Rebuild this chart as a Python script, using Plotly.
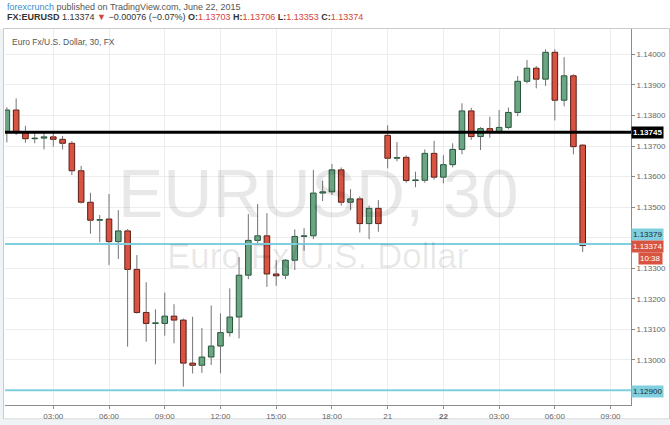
import plotly.graph_objects as go

# ---------------- data (EURUSD, 30-minute candles) ----------------
bar_index = list(range(63))
opens = [1.13745, 1.13818, 1.13745, 1.13724, 1.13726, 1.13730, 1.13722, 1.13709, 1.13619, 1.13516,
         1.13457, 1.13461, 1.13387, 1.13422, 1.13296, 1.13155, 1.13119, 1.13119, 1.13143, 1.13130,
         1.12989, 1.12982, 1.13009, 1.13045, 1.13089, 1.13140, 1.13277, 1.13391, 1.13406, 1.13281,
         1.13277, 1.13326, 1.13404, 1.13406, 1.13546, 1.13550, 1.13622, 1.13516, 1.13527, 1.13446,
         1.13496, 1.13735, 1.13660, 1.13663, 1.13587, 1.13588, 1.13676, 1.13598, 1.13639, 1.13689,
         1.13815, 1.13731, 1.13757, 1.13746, 1.13761, 1.13810, 1.13912, 1.13955, 1.13919, 1.14007,
         1.13850, 1.13930, 1.13703]
highs = [1.13827, 1.13856, 1.13766, 1.13747, 1.13745, 1.13750, 1.13733, 1.13716, 1.13635, 1.13547,
         1.13474, 1.13543, 1.13490, 1.13428, 1.13343, 1.13254, 1.13165, 1.13220, 1.13182, 1.13135,
         1.13141, 1.13104, 1.13178, 1.13152, 1.13234, 1.13336, 1.13477, 1.13510, 1.13480, 1.13327,
         1.13330, 1.13427, 1.13431, 1.13622, 1.13587, 1.13641, 1.13630, 1.13559, 1.13535, 1.13505,
         1.13523, 1.13768, 1.13713, 1.13670, 1.13616, 1.13689, 1.13717, 1.13670, 1.13709, 1.13840,
         1.13825, 1.13762, 1.13796, 1.13818, 1.13826, 1.13929, 1.13982, 1.13962, 1.14017, 1.14017,
         1.13991, 1.13935, 1.13706]
lows = [1.13712, 1.13736, 1.13711, 1.13709, 1.13689, 1.13698, 1.13689, 1.13605, 1.13512, 1.13413,
        1.13385, 1.13310, 1.13330, 1.13043, 1.13151, 1.13059, 1.12985, 1.13079, 1.13054, 1.12912,
        1.12955, 1.12957, 1.12983, 1.12956, 1.13076, 1.13070, 1.13264, 1.13380, 1.13239, 1.13242,
        1.13264, 1.13294, 1.13357, 1.13395, 1.13520, 1.13540, 1.13505, 1.13491, 1.13417, 1.13395,
        1.13419, 1.13627, 1.13650, 1.13580, 1.13565, 1.13580, 1.13590, 1.13578, 1.13630, 1.13673,
        1.13720, 1.13687, 1.13727, 1.13740, 1.13755, 1.13798, 1.13905, 1.13889, 1.13897, 1.13784,
        1.13830, 1.13673, 1.13353]
closes = [1.13818, 1.13745, 1.13724, 1.13726, 1.13730, 1.13722, 1.13709, 1.13619, 1.13516, 1.13457,
          1.13459, 1.13387, 1.13422, 1.13296, 1.13155, 1.13119, 1.13121, 1.13143, 1.13130, 1.12989,
          1.12982, 1.13009, 1.13045, 1.13089, 1.13140, 1.13277, 1.13391, 1.13406, 1.13281, 1.13275,
          1.13326, 1.13404, 1.13406, 1.13546, 1.13550, 1.13622, 1.13516, 1.13527, 1.13446, 1.13496,
          1.13446, 1.13660, 1.13662, 1.13587, 1.13589, 1.13676, 1.13598, 1.13639, 1.13689, 1.13815,
          1.13731, 1.13757, 1.13746, 1.13761, 1.13810, 1.13912, 1.13955, 1.13919, 1.14007, 1.13850,
          1.13930, 1.13698, 1.13374]

xtick_pos = [5, 11, 17, 23, 29, 35, 41, 47, 53, 59, 65]
xtick_text = ["03:00", "06:00", "09:00", "12:00", "15:00", "18:00", "21", "<b>22</b>",
              "03:00", "06:00", "09:00"]
ytick_vals = [1.130, 1.131, 1.132, 1.133, 1.134, 1.135, 1.136, 1.137, 1.138, 1.139, 1.140]
# the 1.13400 label is hidden behind the price-marker boxes in the original
ytick_text = ["1.13000", "1.13100", "1.13200", "1.13300", "", "1.13500", "1.13600",
              "1.13700", "1.13800", "1.13900", "1.14000"]

level_black = 1.13745
levels_cyan = [1.13379, 1.12900]
last_price = 1.13374
countdown = "10:38"

# ---------------- style ----------------
UP_FILL, UP_LINE = "#6ba583", "#225437"
DN_FILL, DN_LINE = "#d75442", "#5b1a13"
WICK = "#737375"
CYAN = "#7fcfdf"
GRID = "#ededed"
FONT = "Liberation Sans"

# plot area in pixels
L, R, T, B = 5, 631, 29, 405
W_PX, H_PX = R - L, B - T


def px_x(px):
    return (px - L) / W_PX


def px_y(py):
    return (B - py) / H_PX


bases, heights, fills, lines = [], [], [], []
wx, wy = [], []
for i, o, h, l, c in zip(bar_index, opens, highs, lows, closes):
    top, bot = max(o, c), min(o, c)
    bases.append(bot)
    heights.append(max(top - bot, 0.000006))
    up = c >= o
    fills.append(UP_FILL if up else DN_FILL)
    lines.append(UP_LINE if up else DN_LINE)
    wx += [i, i, None, i, i, None]
    wy += [h, top, None, bot, l, None]

fig = go.Figure()
fig.add_trace(go.Scatter(x=wx, y=wy, mode="lines", line=dict(color=WICK, width=1),
                         hoverinfo="skip", showlegend=False))
fig.add_trace(go.Bar(x=bar_index, y=heights, base=bases, width=0.6,
                     marker=dict(color=fills, line=dict(color=lines, width=1)),
                     showlegend=False))

shapes = [
    # frame
    dict(type="rect", xref="paper", yref="paper", x0=px_x(3.5), x1=px_x(669.5),
         y0=px_y(419), y1=px_y(28.5), line=dict(color="#c8cacc", width=1), layer="below"),
    # gray page strips
    dict(type="rect", xref="paper", yref="paper", x0=px_x(-2), x1=px_x(672),
         y0=px_y(427), y1=px_y(419.5), fillcolor="#f0f3f6", line=dict(width=0), layer="above"),
    dict(type="rect", xref="paper", yref="paper", x0=px_x(-2), x1=px_x(3),
         y0=px_y(427), y1=px_y(29), fillcolor="#f0f3f6", line=dict(width=0), layer="above"),
    # horizontal levels
    dict(type="line", xref="paper", yref="y", x0=0, x1=1, y0=level_black, y1=level_black,
         line=dict(color="#000000", width=3)),
]
for lv in levels_cyan:
    shapes.append(dict(type="line", xref="paper", yref="y", x0=0, x1=1, y0=lv, y1=lv,
                       line=dict(color=CYAN, width=2)))

red_txt = "#d2433a"
header2 = ("<b>FX:EURUSD</b> 1.13374 <span style='color:%s'>▼</span> −0.00076 (−0.07%%) "
           "<b>O:</b><span style='color:%s'>1.13703</span> "
           "<b>H:</b><span style='color:%s'>1.13706</span> "
           "<b>L:</b><span style='color:%s'>1.13353</span> "
           "<b>C:</b><span style='color:%s'>1.13374</span>") % ((red_txt,) * 5)

annotations = [
    dict(text="<span style='color:#3b8bcb'>forexcrunch</span> published on TradingView.com, June 22, 2015",
         xref="paper", yref="paper", x=px_x(5), y=px_y(7), xanchor="left", yanchor="middle",
         showarrow=False, font=dict(family=FONT, size=9, color="#555555")),
    dict(text=header2, xref="paper", yref="paper", x=px_x(5), y=px_y(17.5), xanchor="left",
         yanchor="middle", showarrow=False, font=dict(family=FONT, size=9, color="#333333")),
    dict(text="Euro Fx/U.S. Dollar, 30, FX", xref="paper", yref="paper", x=px_x(10), y=px_y(42),
         xanchor="left", yanchor="middle", showarrow=False,
         font=dict(family=FONT, size=8.5, color="#555555")),
    dict(text="EURUSD, 30", xref="paper", yref="paper", x=px_x(318), y=px_y(193),
         xanchor="center", yanchor="middle", showarrow=False,
         font=dict(family=FONT, size=68, color="rgba(0,0,0,0.09)")),
    dict(text="Euro Fx/U.S. Dollar", xref="paper", yref="paper", x=px_x(318), y=px_y(255),
         xanchor="center", yanchor="middle", showarrow=False,
         font=dict(family=FONT, size=35, color="rgba(0,0,0,0.09)")),
    # price axis labels
    dict(text="<b>%.5f</b>" % level_black, xref="paper", yref="y", x=1, y=level_black,
         xanchor="left", yanchor="middle", showarrow=False, bgcolor="#000000", borderpad=1,
         font=dict(family=FONT, size=8, color="#ffffff")),
    dict(text="%.5f" % levels_cyan[0], xref="paper", yref="y", x=1, y=levels_cyan[0], yshift=10,
         xanchor="left", yanchor="middle", showarrow=False, bgcolor=CYAN, borderpad=1,
         font=dict(family=FONT, size=8, color="#1c2b33")),
    dict(text="%.5f" % last_price, xref="paper", yref="y", x=1, y=last_price, yshift=-1,
         xanchor="left", yanchor="middle", showarrow=False, bgcolor=DN_FILL, borderpad=1,
         font=dict(family=FONT, size=8, color="#ffffff")),
    dict(text=countdown, xref="paper", yref="y", x=px_x(663), y=last_price, yshift=-13,
         xanchor="right", yanchor="middle", showarrow=False, bgcolor=DN_FILL, borderpad=1,
         font=dict(family=FONT, size=8, color="#ffffff")),
    dict(text="%.5f" % levels_cyan[1], xref="paper", yref="y", x=1, y=levels_cyan[1], yshift=-1,
         xanchor="left", yanchor="middle", showarrow=False, bgcolor=CYAN, borderpad=1,
         font=dict(family=FONT, size=8, color="#1c2b33")),
]

fig.update_layout(
    width=670, height=425,
    margin=dict(l=L, r=670 - R, t=T, b=425 - B, pad=0),
    paper_bgcolor="#ffffff", plot_bgcolor="#ffffff",
    showlegend=False, barmode="overlay",
    shapes=shapes, annotations=annotations,
    font=dict(family=FONT, size=8, color="#555555"),
    xaxis=dict(range=[-0.2, 67.2], tickmode="array", tickvals=xtick_pos, ticktext=xtick_text,
               showgrid=True, gridcolor=GRID, gridwidth=1, zeroline=False,
               showline=True, linecolor="#8c8c8c", linewidth=1,
               ticks="outside", ticklen=3, tickcolor="#8c8c8c",
               tickfont=dict(family=FONT, size=8, color="#666666"), fixedrange=True),
    yaxis=dict(range=[1.128519, 1.140833], side="right", tickmode="array",
               tickvals=ytick_vals, ticktext=ytick_text,
               showgrid=True, gridcolor=GRID, gridwidth=1, zeroline=False,
               showline=True, linecolor="#8c8c8c", linewidth=1,
               ticks="outside", ticklen=3, tickcolor="#8c8c8c",
               tickfont=dict(family=FONT, size=8, color="#666666"), fixedrange=True),
)

fig.write_html("out.html", config={"displayModeBar": False},
               post_script="document.body.style.margin='0px';")
